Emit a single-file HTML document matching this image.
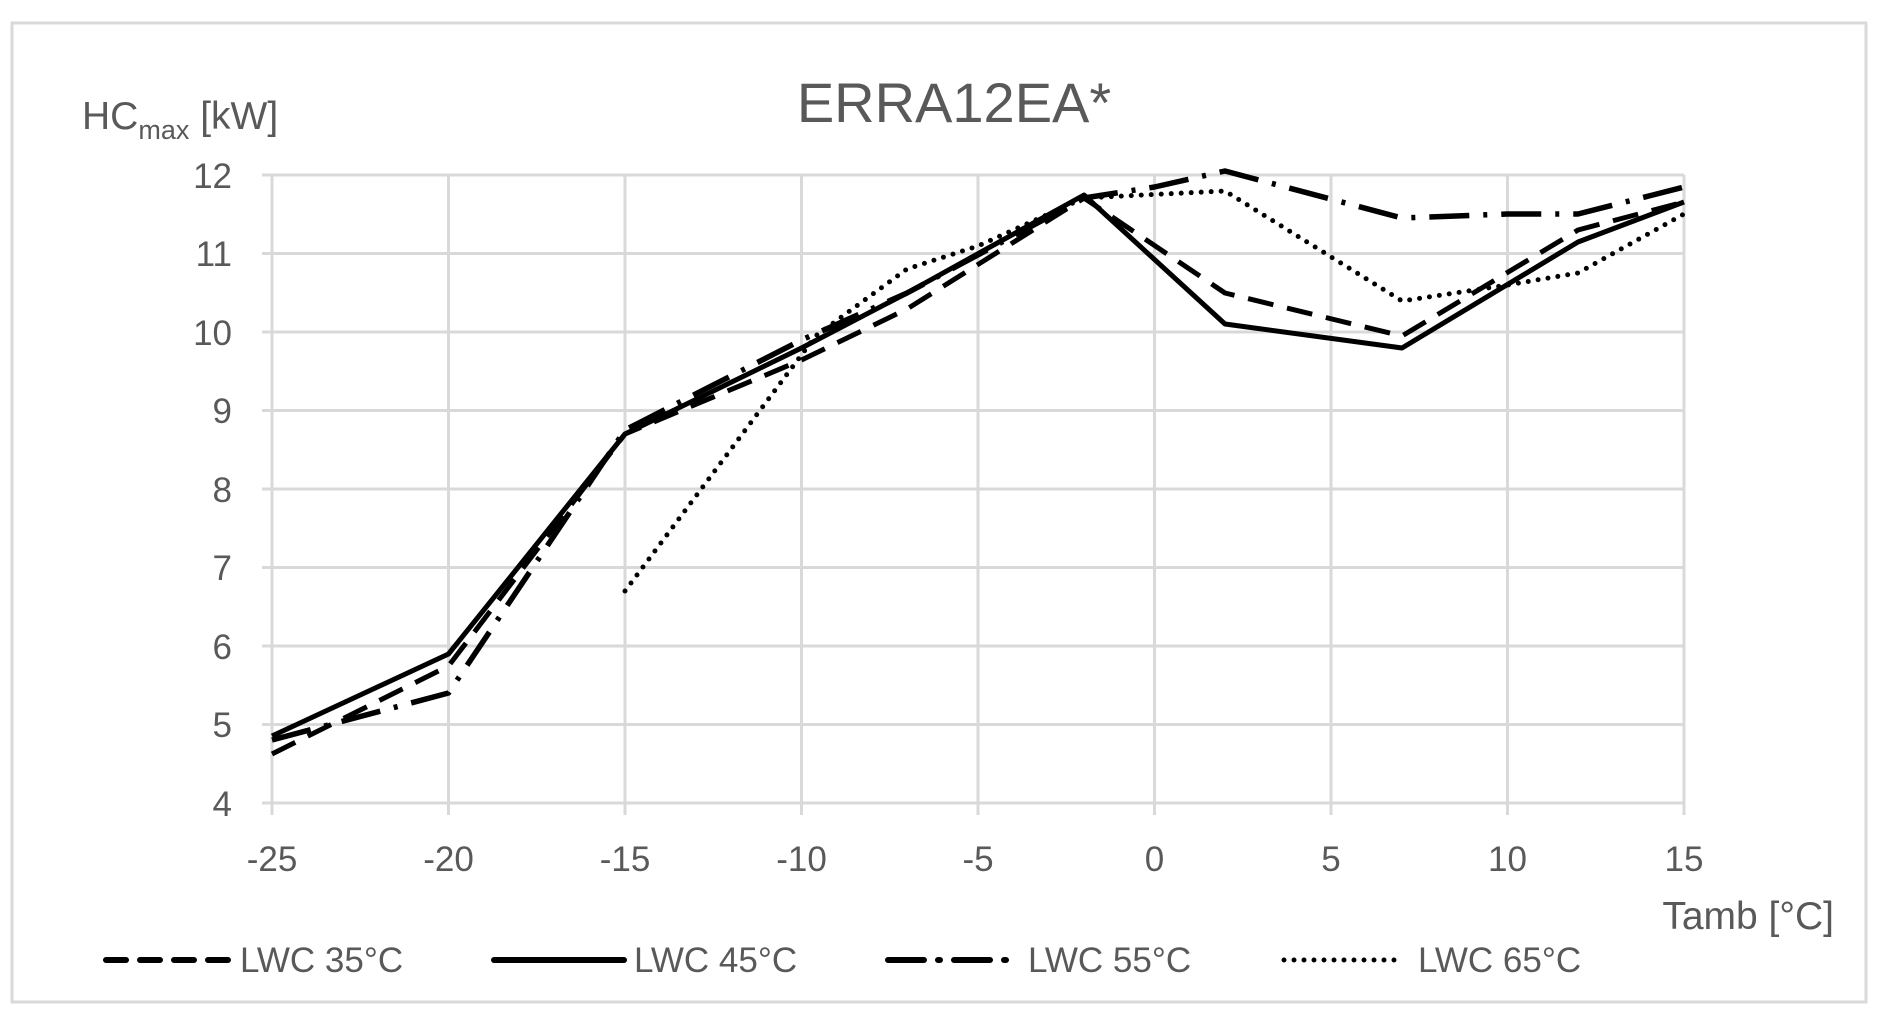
<!DOCTYPE html>
<html><head><meta charset="utf-8"><style>
html,body{margin:0;padding:0;background:#fff;}
svg{display:block;}
text{font-family:"Liberation Sans",sans-serif;fill:#595959;}
</style></head><body>
<svg width="1881" height="1020" viewBox="0 0 1881 1020" xmlns="http://www.w3.org/2000/svg">
<rect x="12" y="23" width="1854" height="979" fill="#fff" stroke="#d9d9d9" stroke-width="3"/>
<text x="954" y="122" font-size="56" text-anchor="middle">ERRA12EA*</text>
<text x="82" y="129" font-size="39">HC<tspan font-size="27" dy="10">max</tspan><tspan dy="-10"> [kW]</tspan></text>
<g stroke="#d9d9d9" stroke-width="3">
<line x1="262" y1="175" x2="1684" y2="175"/><line x1="262" y1="253.5" x2="1684" y2="253.5"/>
<line x1="262" y1="332" x2="1684" y2="332"/><line x1="262" y1="410.5" x2="1684" y2="410.5"/>
<line x1="262" y1="489" x2="1684" y2="489"/><line x1="262" y1="567.5" x2="1684" y2="567.5"/>
<line x1="262" y1="646" x2="1684" y2="646"/><line x1="262" y1="724.5" x2="1684" y2="724.5"/>
<line x1="262" y1="803" x2="1684" y2="803"/>
<line x1="272" y1="175" x2="272" y2="815"/><line x1="448.5" y1="175" x2="448.5" y2="815"/>
<line x1="625" y1="175" x2="625" y2="815"/><line x1="801.5" y1="175" x2="801.5" y2="815"/>
<line x1="978" y1="175" x2="978" y2="815"/><line x1="1154.5" y1="175" x2="1154.5" y2="815"/>
<line x1="1331" y1="175" x2="1331" y2="815"/><line x1="1507.5" y1="175" x2="1507.5" y2="815"/>
<line x1="1684" y1="175" x2="1684" y2="815"/>
</g>
<g font-size="35" text-anchor="end">
<text x="232" y="188">12</text><text x="232" y="266">11</text><text x="232" y="345">10</text>
<text x="232" y="423">9</text><text x="232" y="502">8</text><text x="232" y="580">7</text>
<text x="232" y="659">6</text><text x="232" y="737">5</text><text x="232" y="816">4</text>
</g>
<g font-size="35" text-anchor="middle">
<text x="272" y="871">-25</text><text x="448.5" y="871">-20</text><text x="625" y="871">-15</text>
<text x="801.5" y="871">-10</text><text x="978" y="871">-5</text><text x="1154.5" y="871">0</text>
<text x="1331" y="871">5</text><text x="1507.5" y="871">10</text><text x="1684" y="871">15</text>
</g>
<text x="1834" y="929" font-size="39" text-anchor="end">Tamb [°C]</text>
<g fill="none" stroke="#000" stroke-linejoin="round">
<polyline stroke-width="5" stroke-dasharray="26 14" points="272,754 448.5,666 625,434 801.5,360 907,309 1084,198 1225,293 1402,336 1578,230 1684,202"/>
<polyline stroke-width="5" points="272,736 448.5,654 625,434 801.5,348 907,293 1084,195 1225,324 1402,348 1578,242 1684,202"/>
<polyline stroke-width="5.5" stroke-dasharray="40 14 4 14" points="272,740 448.5,693 625,430 801.5,340 907,293 1084,198 1154.5,187 1225,171 1402,218 1507.5,214 1578,214 1684,187"/>
<polyline stroke-width="5" stroke-linecap="round" stroke-dasharray="0 10" points="625,591 815.6,336 907,269 978,246 1084,198 1225,191 1402,301 1507.5,285 1578,273 1684,214"/>
</g>
<g fill="none" stroke="#000" stroke-linecap="round">
<line x1="106" y1="960" x2="228" y2="960" stroke-width="6" stroke-dasharray="20 14"/>
<line x1="494" y1="960" x2="624" y2="960" stroke-width="6"/>
<line x1="888" y1="960" x2="1018" y2="960" stroke-width="6" stroke-dasharray="36 14 2 14"/>
<line x1="1284" y1="960" x2="1400" y2="960" stroke-width="5" stroke-dasharray="0 10"/>
</g>
<g font-size="35">
<text x="240" y="972">LWC 35°C</text><text x="634" y="972">LWC 45°C</text>
<text x="1028" y="972">LWC 55°C</text><text x="1418" y="972">LWC 65°C</text>
</g>
</svg>
</body></html>
